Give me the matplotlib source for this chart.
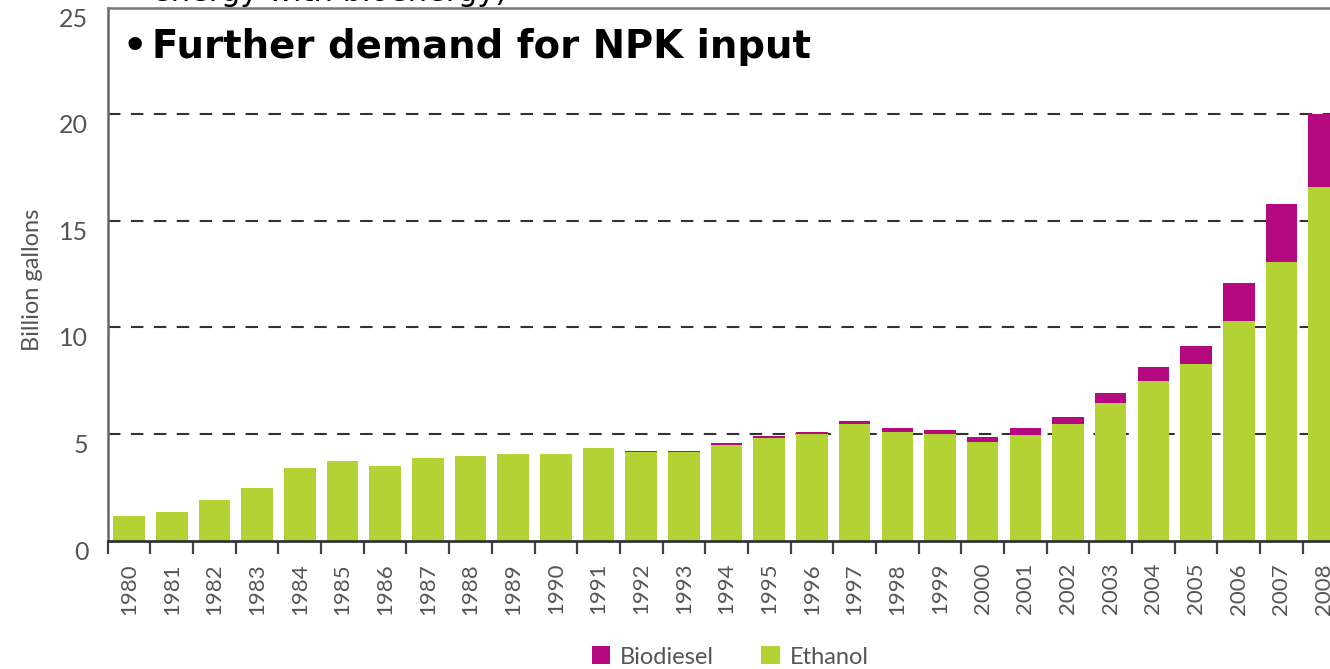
import matplotlib.pyplot as plt
import numpy as np

# Datos (miles de millones de galones)
years = list(range(1980, 2009))
ethanol = [1.16, 1.36, 1.91, 2.46, 3.42, 3.75, 3.52, 3.86, 3.96, 4.07,
           4.07, 4.35, 4.15, 4.15, 4.50, 4.80, 5.00, 5.45, 5.10, 5.00,
           4.61, 4.96, 5.46, 6.44, 7.50, 8.27, 10.32, 13.06, 16.60]
biodiesel = [0, 0, 0, 0, 0, 0, 0, 0, 0, 0,
             0, 0, 0.05, 0.05, 0.08, 0.10, 0.12, 0.15, 0.17, 0.20,
             0.27, 0.31, 0.36, 0.49, 0.63, 0.88, 1.78, 2.72, 3.40]
y_ticks = [0, 5, 10, 15, 20, 25]

green = "#b3d335"
magenta = "#b5097f"

fig = plt.figure(figsize=(13.3, 6.69), dpi=100)
ax = fig.add_axes([0.081, 0.1918, 0.9306, 0.7967])

x = np.arange(len(years))

# Líneas punteadas horizontales
for v in y_ticks[1:-1]:
    ax.axhline(v, color="#333333", lw=1.5, dashes=(6, 5), zorder=1)

ax.bar(x, ethanol, 0.74, color=green, zorder=2, label="Ethanol")
ax.bar(x, biodiesel, 0.74, bottom=ethanol, color=magenta, zorder=2, label="Biodiesel")

ax.set_xlim(-0.5, len(years) - 0.5)
ax.set_ylim(0, 25)

# Ejes
ax.spines["right"].set_visible(False)
ax.spines["left"].set_color("#666666")
ax.spines["left"].set_linewidth(1.8)
ax.spines["top"].set_color("#777777")
ax.spines["top"].set_linewidth(1.8)
ax.spines["bottom"].set_color("#333333")
ax.spines["bottom"].set_linewidth(2)

ax.set_yticks(y_ticks)
ax.set_yticklabels([str(v) for v in y_ticks], fontfamily="Lato", fontsize=18, color="#555555")
for lab in ax.get_yticklabels():
    lab.set_va("top")
ax.tick_params(axis="y", length=0, pad=14)

ax.set_xticks(x)
ax.set_xticklabels([str(y) for y in years], rotation=90, fontfamily="Lato",
                   fontsize=16, color="#555555", va="top")
ax.tick_params(axis="x", which="major", length=0, pad=16)
ax.set_xticks(np.arange(len(years) + 1) - 0.5, minor=True)
ax.tick_params(axis="x", which="minor", length=9, width=1.6, color="#444444")

ax.set_ylabel("Billion gallons", fontfamily="Lato", fontsize=17, color="#555555")
ax.yaxis.set_label_coords(-0.052, 0.49)

# Texto de la diapositiva
fig.text(152 / 1330, 1 - 1 / 669, "energy with bioenergy)", fontsize=22,
         va="baseline", ha="left", color="black")
fig.text(122 / 1330, 1 - 58 / 669, "\u2022", fontsize=27.5,
         fontweight="bold", va="baseline", ha="left", color="black")
fig.text(152 / 1330, 1 - 58 / 669, "Further demand for NPK input", fontsize=27.8,
         fontweight="bold", va="baseline", ha="left", color="black")

# Leyenda
handles, labels = ax.get_legend_handles_labels()
leg = fig.legend(handles[::-1], labels[::-1], loc="center", ncol=2,
                 bbox_to_anchor=(730 / 1330, 1 - 657 / 669), frameon=False,
                 prop={"family": "Lato", "size": 17}, handlelength=0.8, handleheight=0.8,
                 handletextpad=0.4, columnspacing=2.0, borderaxespad=0)
for t in leg.get_texts():
    t.set_color("#555555")

plt.savefig("out.png", dpi=100)
